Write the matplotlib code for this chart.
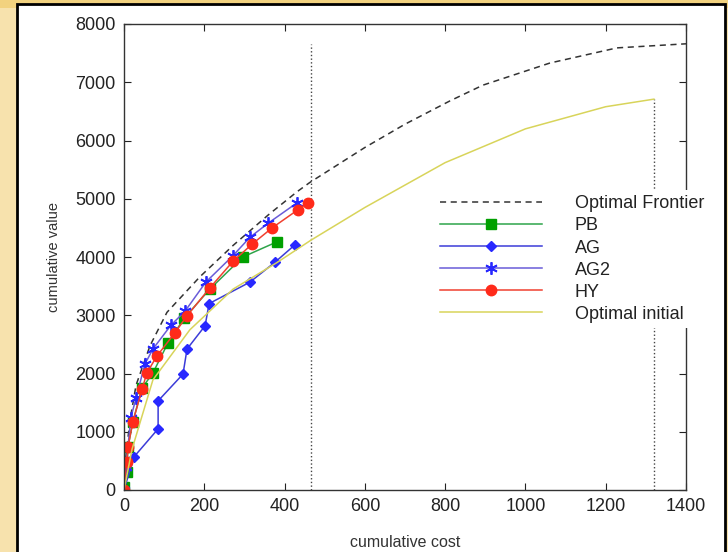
import matplotlib.pyplot as plt
from matplotlib.patches import Rectangle

plt.rcParams['font.family'] = ['Liberation Sans', 'DejaVu Sans']

# Optimal frontier (dashed)
front_x = [0, 5, 15, 30, 65, 107, 189, 272, 359, 431, 463, 600, 700, 812, 894, 1061, 1228, 1400]
front_y = [0, 600, 1200, 1800, 2480, 3050, 3660, 4200, 4720, 5120, 5280, 5880, 6280, 6680, 6950, 7330, 7590, 7660]

# Optimal initial (yellow)
init_x = [0, 20, 72, 164, 272, 380, 466, 600, 800, 1000, 1200, 1320]
init_y = [0, 700, 1890, 2750, 3450, 3900, 4290, 4850, 5620, 6200, 6580, 6710]

pb_x = [0, 7, 10, 22, 45, 72, 110, 150, 214, 296, 381]
pb_y = [50, 310, 740, 1170, 1750, 2010, 2530, 2950, 3450, 4000, 4260]

ag_x = [0, 25, 85, 85, 147, 157, 202, 212, 314, 376, 426]
ag_y = [0, 570, 1050, 1530, 1990, 2420, 2820, 3200, 3570, 3910, 4210]

ag2_x = [0, 5, 17, 30, 52, 72, 117, 152, 204, 271, 314, 359, 431]
ag2_y = [0, 400, 1240, 1580, 2160, 2420, 2830, 3070, 3570, 4020, 4340, 4580, 4930]

hy_x = [0, 7, 10, 22, 45, 57, 82, 127, 157, 214, 272, 319, 369, 433, 458]
hy_y = [0, 480, 740, 1170, 1730, 2010, 2300, 2700, 2990, 3470, 3930, 4220, 4500, 4810, 4930]

# vertical dotted markers: budget line and end of optimal initial
budget_x = 465
budget_top = 7660
init_end_x = 1320
init_end_top = 6710

fig = plt.figure(figsize=(7.28, 5.52), dpi=100)
fig.patch.set_facecolor('#f7e2ad')
fig.patches.append(Rectangle((0, 0.985), 1, 0.02, transform=fig.transFigure,
                             facecolor='#f2d27f', edgecolor='none', zorder=0))
fig.patches.append(Rectangle((17 / 728, -0.02), 708 / 728, 0.011 + 547 / 552 + 0.01,
                             transform=fig.transFigure, facecolor='white',
                             edgecolor='black', linewidth=2, zorder=1))

ax = fig.add_axes([124 / 728, 62 / 552, 562 / 728, 466 / 552])
ax.set_zorder(2)

ax.plot([budget_x, budget_x], [0, budget_top], color='#444444', ls=':', lw=1)
ax.plot([init_end_x, init_end_x], [0, init_end_top], color='#444444', ls=':', lw=1)

ax.plot(front_x, front_y, color='#333333', ls=(0, (4, 3)), lw=1.1, label='Optimal Frontier')
ax.plot(pb_x, pb_y, color='#2ea44a', lw=1.1, marker='s', ms=7,
        mfc='#00a000', mec='#00a000', label='PB')
ax.plot(ag_x, ag_y, color='#3c3cd8', lw=1.1, marker='D', ms=5.5,
        mfc='#2828ff', mec='#2828ff', label='AG')
ax.plot(ag2_x, ag2_y, color='#6a5cd8', lw=1.1, marker=(6, 2, 0), ms=9, mew=1.3,
        mec='#2828ff', label='AG2')
ax.plot(hy_x, hy_y, color='#f04030', lw=1.1, marker='o', ms=7.5,
        mfc='#ff2a1a', mec='#ff2a1a', label='HY')
ax.plot(init_x, init_y, color='#d8d45a', lw=1.1, label='Optimal initial')

ax.set_xlim(0, 1400)
ax.set_ylim(0, 8000)
ax.set_xticks(range(0, 1401, 200))
ax.set_yticks(range(0, 8001, 1000))
ax.tick_params(direction='in', length=5, top=True, right=True, labelsize=13,
               colors='#222222', pad=6)
for s in ax.spines.values():
    s.set_color('#333333')
    s.set_linewidth(1)

ax.set_xlabel('cumulative cost', fontsize=11.5, color='#333333', labelpad=14)
ax.set_ylabel('cumulative value', fontsize=10.5, color='#333333', labelpad=10)

leg = ax.legend(loc='upper left', bbox_to_anchor=(435 / 728, 362 / 552),
                bbox_transform=fig.transFigure, fontsize=13, frameon=True,
                fancybox=False, edgecolor='none', facecolor='white', framealpha=1,
                handlelength=5.6, handletextpad=1.85, labelspacing=0.28,
                borderpad=0.3, borderaxespad=0)
for t in leg.get_texts():
    t.set_color('#222222')

fig.savefig('out.png', dpi=100, facecolor=fig.get_facecolor())
